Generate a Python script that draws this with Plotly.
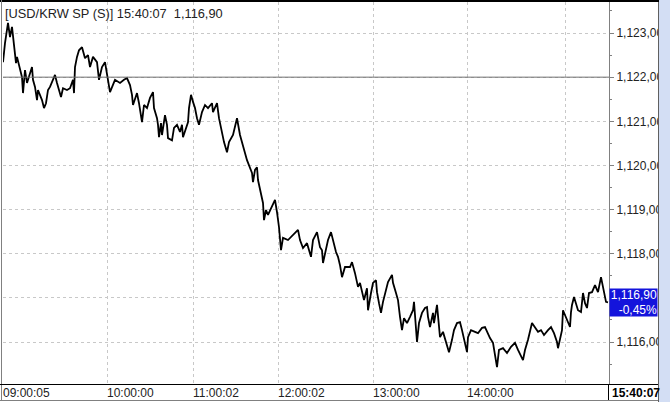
import plotly.graph_objects as go

# ---- data (tick index, price) ----
idx = [0, 2, 5, 7, 9, 12, 13, 14, 17, 19, 20, 22, 24, 29, 30, 32, 34, 35, 39, 41, 43, 45, 47, 50, 52, 54,
       58, 60, 64, 67, 70, 71, 72, 74, 76, 79, 82, 85, 87, 90, 94, 96, 99, 102, 104, 107, 112, 117, 121,
       124, 127, 129, 130, 132, 134, 136, 139, 141, 144, 147, 150, 151, 154, 155, 156, 158, 159, 162, 164,
       165, 169, 171, 174, 177, 179, 180, 182, 185, 186, 188, 190, 192, 194, 196, 199, 202, 205, 209, 210,
       214, 216, 219, 221, 224, 226, 230, 234, 237, 240, 244, 249, 250, 252, 254, 255, 258, 260, 261, 263,
       265, 269, 272, 274, 275, 276, 278, 280, 285, 290, 295, 297, 300, 304, 308, 310, 314, 317, 319, 320,
       323, 325, 328, 330, 333, 335, 337, 339, 342, 347, 349, 352, 355, 357, 359, 361, 364, 365, 368, 370,
       373, 374, 376, 378, 380, 383, 385, 389, 390, 393, 395, 397, 399, 401, 404, 407, 410, 411, 412, 414,
       416, 419, 422, 424, 425, 427, 430, 431, 434, 435, 437, 440, 443, 446, 449, 451, 454, 457, 459, 461,
       464, 465, 468, 472, 475, 479, 482, 487, 490, 494, 496, 500, 504, 508, 512, 515, 519, 520, 522, 525,
       529, 532, 535, 538, 541, 545, 548, 551, 554, 555, 557, 559, 560, 563, 565, 567, 568, 569, 571, 575,
       578, 580, 582, 584, 586, 589, 592, 595, 598, 600, 603, 605]
price = [1122.34, 1122.77, 1123.23, 1122.91, 1123.14, 1122.61, 1122.32, 1122.46, 1122.16, 1122.00, 1121.64,
         1122.16, 1121.87, 1122.23, 1121.94, 1121.78, 1121.48, 1121.71, 1121.48, 1121.30, 1121.41, 1121.71,
         1121.78, 1121.94, 1122.05, 1121.87, 1121.55, 1121.75, 1121.71, 1121.75, 1121.94, 1121.64, 1122.23,
         1122.46, 1122.61, 1122.68, 1122.43, 1122.50, 1122.23, 1122.46, 1122.34, 1121.94, 1122.23, 1122.34,
         1122.09, 1121.66, 1121.94, 1121.87, 1121.94, 1121.98, 1121.82, 1121.60, 1121.37, 1121.53, 1121.64,
         1121.41, 1120.98, 1121.37, 1121.30, 1121.53, 1121.66, 1121.30, 1121.07, 1120.92, 1120.64, 1120.96,
         1120.69, 1121.14, 1120.92, 1120.62, 1120.57, 1120.85, 1120.92, 1120.76, 1120.92, 1120.64, 1120.80,
         1120.98, 1121.30, 1121.60, 1121.44, 1121.30, 1121.07, 1120.92, 1121.21, 1121.37, 1121.30, 1121.41,
         1121.21, 1121.41, 1121.07, 1120.76, 1120.53, 1120.30, 1120.53, 1120.69, 1121.07, 1120.69, 1120.46,
         1120.12, 1119.83, 1119.62, 1119.90, 1119.96, 1119.67, 1119.38, 1119.15, 1118.76, 1118.99, 1118.88,
         1119.06, 1119.22, 1118.94, 1118.76, 1118.60, 1118.08, 1118.36, 1118.31, 1118.42, 1118.54, 1118.31,
         1118.13, 1118.24, 1117.93, 1118.31, 1118.49, 1118.15, 1118.08, 1117.79, 1118.15, 1118.31, 1118.49,
         1118.31, 1118.04, 1117.93, 1117.74, 1117.47, 1117.70, 1117.70, 1117.81, 1117.56, 1117.25, 1117.34,
         1117.11, 1116.95, 1117.22, 1116.72, 1117.11, 1117.34, 1117.40, 1117.13, 1116.88, 1116.66, 1116.91,
         1117.18, 1117.36, 1117.52, 1117.34, 1117.11, 1116.95, 1116.57, 1116.27, 1116.54, 1116.43, 1116.57,
         1116.72, 1116.91, 1116.57, 1116.00, 1116.43, 1116.66, 1116.77, 1116.79, 1116.57, 1116.34, 1116.66,
         1116.43, 1116.84, 1116.57, 1116.11, 1116.23, 1115.98, 1115.77, 1116.05, 1116.27, 1116.43, 1116.45,
         1116.27, 1116.05, 1115.77, 1116.11, 1116.27, 1116.23, 1116.20, 1116.32, 1116.34, 1116.09, 1115.98,
         1115.43, 1115.82, 1115.86, 1115.75, 1115.89, 1115.98, 1115.82, 1115.64, 1115.59, 1115.82, 1116.05,
         1116.43, 1116.32, 1116.23, 1116.27, 1116.16, 1116.27, 1116.34, 1116.20, 1116.00, 1115.86, 1116.05,
         1116.27, 1116.72, 1116.57, 1116.45, 1116.34, 1116.68, 1116.84, 1117.02, 1116.72, 1116.68, 1117.11,
         1116.88, 1116.77, 1117.11, 1117.13, 1117.29, 1117.13, 1117.47, 1117.25, 1116.91, 1116.90]

y_tick_vals = [1116, 1117, 1118, 1119, 1120, 1121, 1122, 1123]
# the 1,117,00 label sits behind the last-price box in the reference, so it is left blank
y_tick_text = ["1,116,00", "", "1,118,00", "1,119,00", "1,120,00", "1,121,00", "1,122,00", "1,123,00"]
y_minor_vals = [1115.5, 1116.5, 1117.5, 1118.5, 1119.5, 1120.5, 1121.5, 1122.5, 1123.5]
x_tick_idx = [0, 104, 190, 275, 370, 464, 562]
x_tick_text = ["09:00:05", "10:00:00", "11:00:02", "12:00:02", "13:00:00", "14:00:00", ""]
prev_close = 1122.00
last_time = "15:40:07"
last_price_text = "1,116,90"
change_text = "-0,45%"
title_text = "[USD/KRW SP (S)] 15:40:07\u00a0\u00a01,116,90"

W, H = 670, 402
ML, MR, MT, MB = 3, 61, 2, 18
PW, PH = W - ML - MR, H - MT - MB


def px(xp):
    return (xp - ML) / PW


def py(yp):
    return (H - MB - yp) / PH


FONT = "Liberation Sans, Arial, sans-serif"

fig = go.Figure()
fig.add_trace(go.Scatter(x=idx, y=price, mode="lines",
                         line=dict(color="#000000", width=1.8), hoverinfo="skip"))

shapes = [
    dict(type="line", xref="paper", yref="y", x0=0, x1=1, y0=prev_close, y1=prev_close,
         line=dict(color="#707070", width=1)),
    dict(type="rect", xref="paper", yref="paper", x0=px(659), x1=px(671), y0=py(-1), y1=py(403),
         fillcolor="#d3def4", line=dict(width=0), layer="above"),
    dict(type="line", xref="paper", yref="paper", x0=px(658.5), x1=px(658.5), y0=py(0), y1=py(402),
         line=dict(color="#606060", width=1), layer="above"),
    dict(type="line", xref="paper", yref="paper", x0=px(0), x1=px(659), y0=py(1), y1=py(1),
         line=dict(color="#000000", width=2), layer="above"),
    dict(type="line", xref="paper", yref="paper", x0=px(1.5), x1=px(1.5), y0=py(0), y1=py(401),
         line=dict(color="#808080", width=1), layer="above"),
    dict(type="line", xref="paper", yref="paper", x0=px(0), x1=px(658), y0=py(384.5), y1=py(384.5),
         line=dict(color="#000000", width=1.2), layer="above"),
    dict(type="line", xref="paper", yref="paper", x0=px(0), x1=px(658), y0=py(400.5), y1=py(400.5),
         line=dict(color="#808080", width=1), layer="above"),
    dict(type="line", xref="paper", yref="paper", x0=px(608.5), x1=px(608.5), y0=py(384), y1=py(400),
         line=dict(color="#000000", width=1), layer="above"),
]

annotations = [
    dict(text=title_text, xref="paper", yref="paper", x=px(3), y=py(4), xanchor="left", yanchor="top",
         showarrow=False, font=dict(family=FONT, size=12.8, color="#222222")),
    dict(text=last_price_text + "<br>" + change_text, xref="paper", yref="y", x=1, y=price[-1],
         xanchor="left", yanchor="middle", showarrow=False, align="right",
         bgcolor="#1414dc", width=47, height=27, borderpad=0,
         font=dict(family=FONT, size=12, color="#ffffff")),
    dict(text="<b>" + last_time + "</b>", xref="paper", yref="paper", x=px(610), y=py(392.5),
         xanchor="left", yanchor="middle", showarrow=False,
         font=dict(family=FONT, size=12, color="#000000")),
]

fig.update_layout(
    width=W, height=H,
    margin=dict(l=ML, r=MR, t=MT, b=MB, pad=0),
    paper_bgcolor="#ffffff", plot_bgcolor="#ffffff",
    showlegend=False,
    shapes=shapes, annotations=annotations,
    xaxis=dict(range=[0, 606], tickvals=x_tick_idx, ticktext=x_tick_text,
               showgrid=True, gridcolor="#c8c8c8", griddash="dot", gridwidth=1,
               ticks="", ticklabelposition="outside right", zeroline=False, showline=False,
               tickfont=dict(family=FONT, size=12, color="#222222"), fixedrange=True),
    yaxis=dict(side="right", range=[1115.049, 1123.703], tickvals=y_tick_vals, ticktext=y_tick_text,
               showgrid=True, gridcolor="#c8c8c8", griddash="dot", gridwidth=1,
               ticks="outside", ticklen=4, tickcolor="#808080", tickwidth=1,
               showline=True, linecolor="#808080", linewidth=1, zeroline=False,
               minor=dict(tickvals=y_minor_vals, ticks="outside", ticklen=2, tickcolor="#808080",
                          showgrid=False),
               tickfont=dict(family=FONT, size=12, color="#222222"), fixedrange=True),
)

fig.write_html("out.html",
               config={"displayModeBar": False},
               post_script="document.body.style.margin='0';document.body.style.padding='0';"
                           "document.body.style.overflow='hidden';")
